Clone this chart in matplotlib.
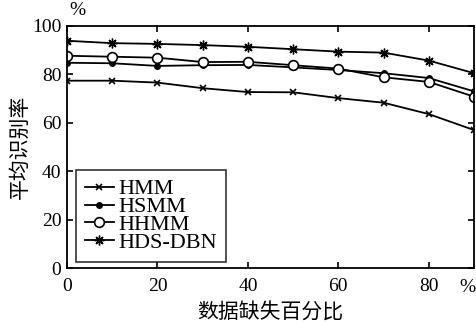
import matplotlib
matplotlib.use("Agg")
import matplotlib.pyplot as plt

x = [0, 10, 20, 30, 40, 50, 60, 70, 80, 90]
hmm = [77.4, 77.4, 76.6, 74.3, 72.7, 72.6, 70.2, 68.3, 63.6, 57.0]
hsmm = [84.8, 84.6, 83.5, 83.8, 83.9, 82.9, 81.8, 80.5, 78.5, 73.0]
hhmm = [87.7, 87.3, 86.9, 85.1, 85.2, 83.8, 82.4, 78.8, 76.9, 70.8]
hdsdbn = [93.9, 92.9, 92.6, 92.1, 91.4, 90.4, 89.4, 89.0, 85.7, 80.5]
xticks = [0, 20, 40, 60, 80]
yticks = [0, 20, 40, 60, 80, 100]

serif = ['Liberation Serif', 'DejaVu Serif']
cjk = ['Noto Sans CJK SC', 'DejaVu Sans']

fig = plt.figure(figsize=(4.76, 3.24), dpi=100)
ax = fig.add_axes([0.1408, 0.1728, 0.855, 0.747])

lw = 1.3
ax.plot(x, hmm, color='black', lw=lw, marker='x', ms=5, mew=1.2, label='HMM')
ax.plot(x, hsmm, color='black', lw=lw, marker='o', ms=4, label='HSMM')
ax.plot(x, hhmm, color='black', lw=lw, marker='o', ms=7, mfc='white', mew=1.2, label='HHMM')
ax.plot(x, hdsdbn, color='black', lw=lw, marker=(8, 2, 0), ms=7, mew=1.0, label='HDS-DBN')

ax.set_xlim(0, 90)
ax.set_ylim(0, 100)
ax.set_xticks(xticks)
ax.set_yticks(yticks)
ax.set_xticklabels([str(t) for t in xticks], family=serif, fontsize=14)
ax.set_yticklabels([str(t) for t in yticks], family=serif, fontsize=14)
ax.tick_params(direction='in', top=True, right=True, length=4, width=1.2)
ax.tick_params(axis='x', pad=7)
ax.tick_params(axis='y', pad=4)
for s in ax.spines.values():
    s.set_linewidth(1.3)

ax.set_xlabel('数据缺失百分比', family=cjk, fontsize=15, labelpad=5)
ax.set_ylabel('平均识别率', family=cjk, fontsize=15, labelpad=1)
fig.text(0.162, 0.94, '%', family=serif, fontsize=14, ha='center', va='bottom')
fig.text(0.982, 0.085, '%', family=serif, fontsize=14, ha='center', va='bottom')

leg = ax.legend(loc='lower left', bbox_to_anchor=(76 / 476, 1 - 262 / 324),
                bbox_transform=fig.transFigure, borderaxespad=0,
                prop={'family': serif, 'size': 16}, frameon=True,
                fancybox=False, edgecolor='black', handlelength=1.3, handletextpad=0.2,
                labelspacing=-0.12, borderpad=0.4)
leg.get_frame().set_linewidth(1.2)

fig.savefig('out.png', dpi=100)
